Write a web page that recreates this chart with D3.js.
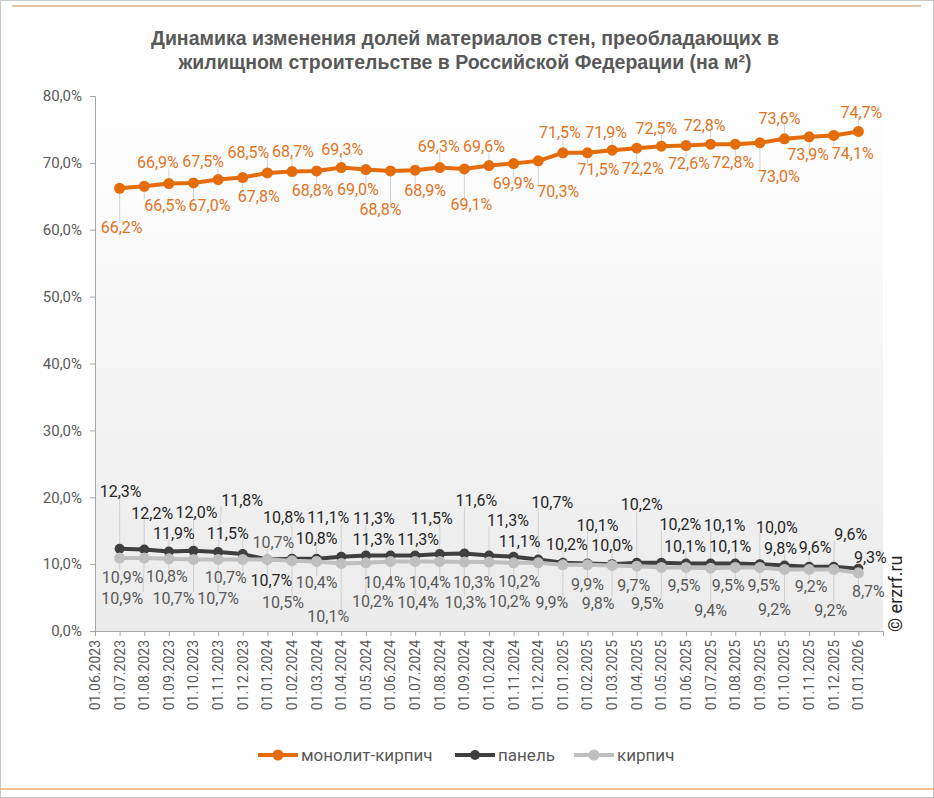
<!DOCTYPE html>
<html lang="ru">
<head>
  <meta charset="UTF-8">
  <title>Доли материалов стен</title>
  <style>
    body { margin: 0; background: #fff; }
    svg { display: block; }
    .axis text { font-family: Roboto, sans-serif; fill: #595959; }
    .axis path, .axis line { stroke: #a6a6a6; }
  </style>
</head>
<body>
  <svg id="chart" width="934" height="798"></svg>
  <script src="https://d3js.org/d3.v7.min.js"></script>
  <script>
    // categories (first one has no data)
    var dates = [
      '01.06.2023', '01.07.2023', '01.08.2023', '01.09.2023', '01.10.2023', '01.11.2023', '01.12.2023',
      '01.01.2024', '01.02.2024', '01.03.2024', '01.04.2024', '01.05.2024', '01.06.2024', '01.07.2024',
      '01.08.2024', '01.09.2024', '01.10.2024', '01.11.2024', '01.12.2024', '01.01.2025', '01.02.2025',
      '01.03.2025', '01.04.2025', '01.05.2025', '01.06.2025', '01.07.2025', '01.08.2025', '01.09.2025',
      '01.10.2025', '01.11.2025', '01.12.2025', '01.01.2026'
    ];

    var monolith = [null, 66.2, 66.5, 66.9, 67.0, 67.5, 67.8, 68.5, 68.7, 68.8, 69.3, 69.0, 68.8, 68.9, 69.3, 69.1,
      69.6, 69.9, 70.3, 71.5, 71.5, 71.9, 72.2, 72.5, 72.6, 72.8, 72.8, 73.0, 73.6, 73.9, 74.1, 74.7];
    var panel = [null, 12.3, 12.2, 11.9, 12.0, 11.8, 11.5, 10.7, 10.8, 10.8, 11.1, 11.3, 11.3, 11.3, 11.5, 11.6,
      11.3, 11.1, 10.7, 10.2, 10.1, 10.0, 10.2, 10.2, 10.1, 10.1, 10.1, 10.0, 9.8, 9.6, 9.6, 9.3];
    var brick = [null, 10.9, 10.9, 10.8, 10.7, 10.7, 10.7, 10.7, 10.5, 10.4, 10.1, 10.2, 10.4, 10.4, 10.4, 10.3,
      10.3, 10.2, 10.2, 9.9, 9.9, 9.8, 9.7, 9.5, 9.5, 9.4, 9.5, 9.5, 9.2, 9.2, 9.2, 8.7];

    var yTicks = [0, 10, 20, 30, 40, 50, 60, 70, 80];
    var seriesNames = ['монолит-кирпич', 'панель', 'кирпич'];

    // label offsets from the point (px), as they were placed by hand in the original
    var monoOff = [null, [2, 39], [21, 19], [-11, -21], [16, 22], [-15, -18], [16, 19], [-19, -21], [1, -20], [-4, 19],
      [1, -18], [-8, 20], [-10, 38], [10, 20], [-1, -21], [7, 36], [-5, -19], [0, 20], [20, 31], [-3, -20], [11, 17],
      [-6, -18], [6, 20], [-5, -18], [3, 18], [-6, -19], [-2, 18], [19, 34], [-5, -20], [-1, 18], [19, 18], [3, -19]];
    var panelOff = [null, [1, -57], [8, -36], [5, -18], [3, -38], [24, -52], [-15, -21], [4, 21], [-8, -41], [0, -20],
      [-13, -39], [8, -37], [-17, -16], [3, -16], [-8, -36], [12, -53], [19, -35], [6, -15], [14, -57], [4, -18],
      [10, -38], [0, -19], [5, -58], [19, -38], [-1, -17], [14, -38], [-5, -17], [17, -37], [-4, -17], [6, -19],
      [17, -32], [12, -11]];
    var brickOff = [null, [3, 19], [-22, 40], [-2, 18], [-20, 39], [0, 39], [-17, 18], [6, -17], [-9, 42], [0, 21],
      [-13, 53], [7, 39], [-6, 21], [3, 41], [-10, 21], [1, 40], [-15, 20], [-4, 39], [-19, 19], [-11, 38], [0, 20],
      [-14, 38], [-3, 19], [-14, 36], [-2, 18], [0, 42], [-7, 18], [4, 18], [-10, 40], [2, 17], [-3, 41], [10, 19]];

    var series = [
      { name: seriesNames[0], values: monolith, off: monoOff, color: '#e46c0a', text: '#e0731f', r: 5.5 },
      { name: seriesNames[1], values: panel, off: panelOff, color: '#3f3f3f', text: '#262626', r: 5 },
      { name: seriesNames[2], values: brick, off: brickOff, color: '#bfbfbf', text: '#595959', r: 5.5 }
    ];

    var svg = d3.select('#chart');
    var W = 934, H = 798;
    var plotL = 95, plotR = 883, plotT = 96, plotB = 631;

    var fmt = function (v) { return v.toFixed(1).replace('.', ',') + '%'; };

    var x = d3.scaleLinear().domain([0, dates.length]).range([plotL, plotR]);
    var y = d3.scaleLinear().domain([0, 80]).range([plotB, plotT]);

    // frame and decorative rules
    svg.append('rect').attr('x', 0.5).attr('y', 0.5).attr('width', W - 1).attr('height', H - 1)
      .attr('fill', '#fff').attr('stroke', '#c9c9c9');
    svg.append('line').attr('x1', 12).attr('x2', 921).attr('y1', 6).attr('y2', 6)
      .attr('stroke', '#e3c6a4').attr('stroke-width', 2);
    svg.append('line').attr('x1', 0).attr('x2', W).attr('y1', 789).attr('y2', 789)
      .attr('stroke', '#f2a672').attr('stroke-width', 1.5);

    // title
    var title = svg.append('text')
      .attr('text-anchor', 'middle')
      .style('font-family', '"Liberation Sans Narrow", "Arial Narrow", "Liberation Sans", sans-serif')
      .style('font-weight', 'bold')
      .style('font-size', '19.5px')
      .attr('fill', '#595959');
    title.append('tspan').attr('x', 465).attr('y', 45)
      .text('Динамика изменения  долей материалов стен, преобладающих в');
    title.append('tspan').attr('x', 465).attr('y', 69)
      .text('жилищном  строительстве  в Российской  Федерации (на м²)');

    // plot area background
    var grad = svg.append('defs').append('linearGradient').attr('id', 'bg')
      .attr('x1', 0).attr('y1', 0).attr('x2', 0).attr('y2', 1);
    grad.append('stop').attr('offset', '0%').attr('stop-color', '#ffffff');
    grad.append('stop').attr('offset', '100%').attr('stop-color', '#ebebeb');
    svg.append('rect').attr('x', plotL).attr('y', plotT - 10).attr('width', plotR - plotL)
      .attr('height', plotB - plotT + 10)
      .attr('fill', 'url(#bg)');

    // axes
    var yAxis = svg.append('g').attr('class', 'axis')
      .attr('transform', 'translate(' + plotL + ',0)')
      .call(d3.axisLeft(y).tickValues(yTicks).tickFormat(fmt).tickSizeOuter(0).tickSize(5).tickPadding(8));
    yAxis.selectAll('text').style('font-size', '15px');

    var xAxis = svg.append('g').attr('class', 'axis')
      .attr('transform', 'translate(0,' + plotB + ')')
      .call(d3.axisBottom(x).tickValues(d3.range(dates.length)).tickFormat(function (i) { return dates[i]; })
        .tickSizeOuter(0).tickSize(5));
    xAxis.selectAll('text')
      .style('font-size', '14px')
      .attr('text-anchor', 'end')
      .attr('transform', 'rotate(-90)')
      .attr('x', -9).attr('y', 0).attr('dy', '0.32em');

    var gLead = svg.append('g');
    var gLines = svg.append('g');
    var gLabels = svg.append('g');

    var line = d3.line()
      .defined(function (d) { return d != null; })
      .x(function (d, i) { return x(i); })
      .y(function (d) { return y(d); });

    series.forEach(function (s) {
      var g = gLines.append('g');
      g.append('path').datum(s.values)
        .attr('d', line).attr('fill', 'none')
        .attr('stroke', s.color).attr('stroke-width', 4).attr('stroke-linejoin', 'round');
      var pts = s.values.map(function (v, i) { return { v: v, i: i }; }).filter(function (d) { return d.v != null; });
      g.selectAll('circle').data(pts).enter().append('circle')
        .attr('cx', function (d) { return x(d.i); })
        .attr('cy', function (d) { return y(d.v); })
        .attr('r', s.r)
        .attr('fill', s.color);

      pts.forEach(function (d) {
        var px = x(d.i), py = y(d.v);
        var cx = px + s.off[d.i][0], cy = py + s.off[d.i][1];
        var t = gLabels.append('text')
          .attr('x', cx).attr('y', cy).attr('dy', '0.35em')
          .attr('text-anchor', 'middle')
          .style('font-family', 'Roboto, sans-serif')
          .style('font-size', '16px')
          .attr('fill', s.text)
          .text(fmt(d.v));
        var w = t.node().getComputedTextLength(), h = 12;
        var tx = Math.max(cx - w / 2, Math.min(px, cx + w / 2));
        var ty = Math.max(cy - h / 2, Math.min(py, cy + h / 2));
        var dist = Math.hypot(tx - px, ty - py);
        if (dist > 10) {
          gLead.append('line').attr('x1', px).attr('y1', py).attr('x2', tx).attr('y2', ty)
            .attr('stroke', '#c8c8c8').attr('stroke-width', 0.8);
        }
      });
    });

    // legend
    var legendX = [258, 455, 574];
    var lg = svg.append('g');
    series.forEach(function (s, k) {
      var g = lg.append('g').attr('transform', 'translate(' + legendX[k] + ',755)');
      g.append('line').attr('x1', 0).attr('x2', 40).attr('stroke', s.color).attr('stroke-width', 4);
      g.append('circle').attr('cx', 20).attr('r', s.r).attr('fill', s.color);
      g.append('text').attr('x', 43).attr('dy', '0.35em')
        .style('font-family', 'Roboto, sans-serif').style('font-size', '17px')
        .attr('fill', '#595959').text(s.name);
    });

    // watermark
    svg.append('text')
      .attr('transform', 'translate(902,632) rotate(-90)')
      .style('font-family', 'Roboto, sans-serif').style('font-size', '18px')
      .attr('fill', '#262626')
      .text('© erzrf.ru');
  </script>
</body>
</html>
